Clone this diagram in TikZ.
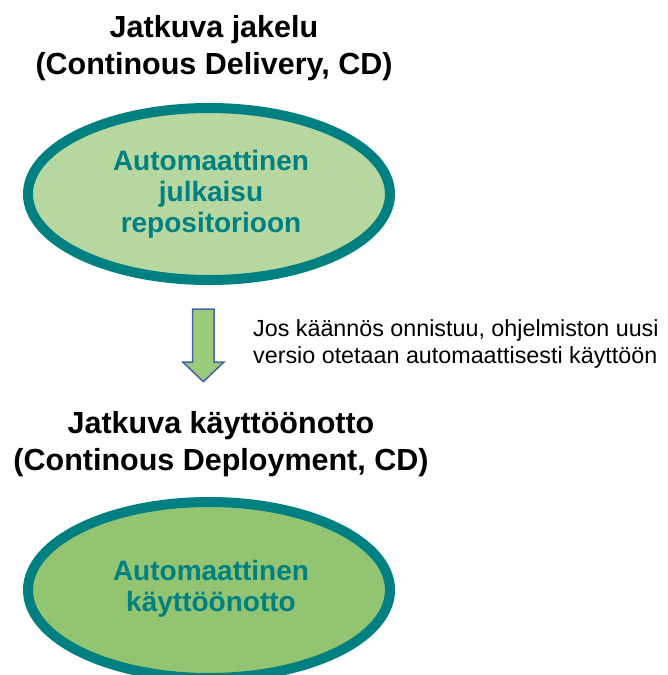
\documentclass[tikz,border=0pt]{standalone}
\usepackage{fontspec}
\setmainfont{Liberation Sans}
\usetikzlibrary{shapes.geometric}
\definecolor{teal1}{RGB}{0,128,128}
\definecolor{fillA}{RGB}{182,216,160}
\definecolor{fillB}{RGB}{146,196,114}
\definecolor{arrfill}{RGB}{155,202,122}
\definecolor{arrline}{RGB}{70,100,160}
\tikzset{
  title/.style={align=center,font=\bfseries\fontsize{30.5}{37}\selectfont,text=black,inner sep=0pt},
  oval/.style={ellipse,draw=teal1,line width=10pt,minimum width=362pt,inner sep=0pt},
  ovaltext/.style={align=center,font=\bfseries\fontsize{28}{31}\selectfont,text=teal1,inner sep=0pt},
  note/.style={align=left,font=\fontsize{23.3}{27}\selectfont,text=black,anchor=west,inner sep=0pt}
}
\begin{document}
\begin{tikzpicture}[x=1pt,y=-1pt]
\useasboundingbox (0,0) rectangle (667,675);
\node[title] (t1) at (214,47.8) {Jatkuva jakelu\\(Continous Delivery, CD)};
\node[oval,fill=fillA,minimum height=172pt] (e1) at (209,194) {};
\node[ovaltext] (e1t) at (211,194) {Automaattinen\\julkaisu\\repositorioon};
\draw[arrline,fill=arrfill,line width=1.5pt,line join=miter]
  (192.7,309) -- (214,309) -- (214,362) -- (224,362) -- (203.4,381.7) -- (182.7,362) -- (192.7,362) -- cycle;
\node[note] (n1) at (253,344.4) {Jos käännös onnistuu, ohjelmiston uusi\\versio otetaan automaattisesti käyttöön};
\node[title] (t2) at (221,443.8) {Jatkuva käyttöönotto\\(Continous Deployment, CD)};
\node[oval,fill=fillB,minimum height=176pt] (e2) at (209,590) {};
\node[ovaltext] (e2t) at (211,589) {Automaattinen\\käyttöönotto};
\end{tikzpicture}
\end{document}
